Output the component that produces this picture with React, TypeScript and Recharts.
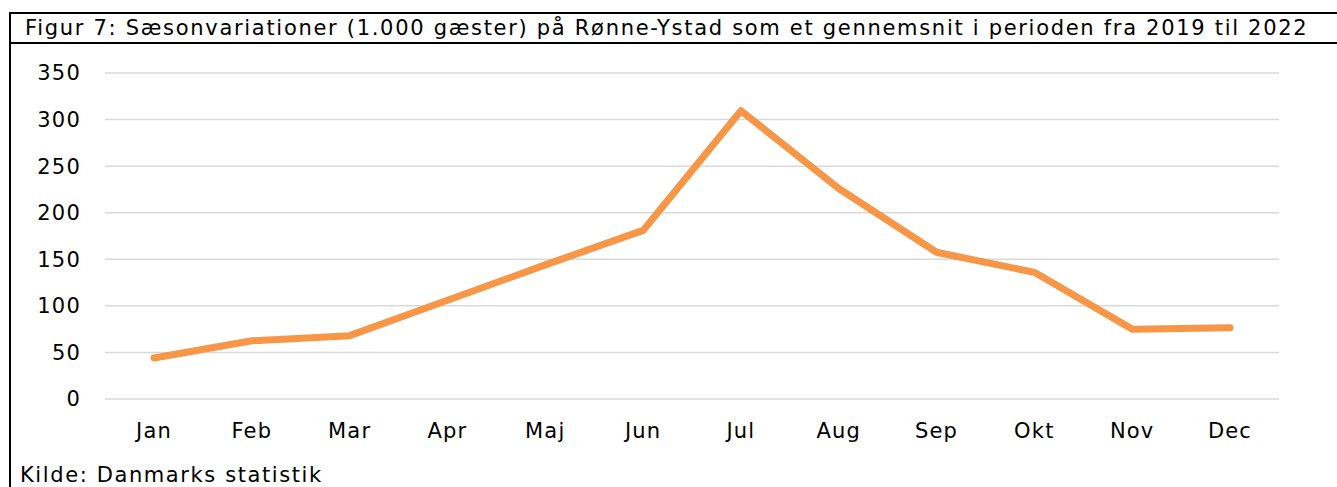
import { LineChart, Line, XAxis, YAxis, CartesianGrid } from 'recharts';

const months = ['Jan', 'Feb', 'Mar', 'Apr', 'Maj', 'Jun', 'Jul', 'Aug', 'Sep', 'Okt', 'Nov', 'Dec'];
const guests = [44, 62.5, 68, 106, 144, 181, 309.5, 226, 157.5, 136, 75, 76.5];
const yTicks = [0, 50, 100, 150, 200, 250, 300, 350];

const TITLE = 'Figur 7: Sæsonvariationer (1.000 gæster) på Rønne-Ystad som et gennemsnit i perioden fra 2019 til 2022';
const SOURCE = 'Kilde: Danmarks statistik';

const FONT = '"DejaVu Sans", Verdana, sans-serif';

const chartData = months.map((m, i) => ({ month: m, guests: guests[i] }));

const tickStyle = { fill: '#000', fontSize: 21, fontFamily: FONT, letterSpacing: 1.2 };

export default function App() {
  return (
    <div style={{ position: 'absolute', left: 0, top: 0, width: 1337, height: 487, background: '#fff', fontFamily: FONT, overflow: 'hidden' }}>
      {/* frame lines */}
      <div style={{ position: 'absolute', left: 9, top: 12, width: 1328, height: 2, background: '#000' }} />
      <div style={{ position: 'absolute', left: 9, top: 12, width: 2, height: 475, background: '#000' }} />
      <div style={{ position: 'absolute', left: 9, top: 42, width: 1328, height: 2, background: '#000' }} />
      <div style={{ position: 'absolute', left: 25, top: 15, fontSize: 21, letterSpacing: 1.7, lineHeight: '26px', color: '#000', whiteSpace: 'nowrap' }}>
        {TITLE}
      </div>

      <div style={{ position: 'absolute', left: 0, top: 0 }}>
        <LineChart width={1337} height={487} data={chartData} margin={{ top: 73, right: 58, bottom: 58, left: 45 }}>
          <CartesianGrid vertical={false} stroke="#d9d9d9" strokeWidth={1.5} />
          <XAxis
            dataKey="month"
            axisLine={false}
            tickLine={false}
            tickSize={0}
            tickMargin={24}
            height={30}
            interval={0}
            padding={{ left: 49, right: 49 }}
            tick={tickStyle}
          />
          <YAxis
            domain={[0, 350]}
            ticks={yTicks}
            axisLine={false}
            tickLine={false}
            tickSize={0}
            tickMargin={24}
            width={60}
            tick={tickStyle}
          />
          <Line
            type="linear"
            dataKey="guests"
            stroke="#f79646"
            strokeWidth={7}
            strokeLinecap="round"
            strokeLinejoin="round"
            dot={false}
            isAnimationActive={false}
          />
        </LineChart>
      </div>

      <div style={{ position: 'absolute', left: 20, top: 462, fontSize: 21, letterSpacing: 1.6, lineHeight: '26px', color: '#000', whiteSpace: 'nowrap' }}>
        {SOURCE}
      </div>
    </div>
  );
}
